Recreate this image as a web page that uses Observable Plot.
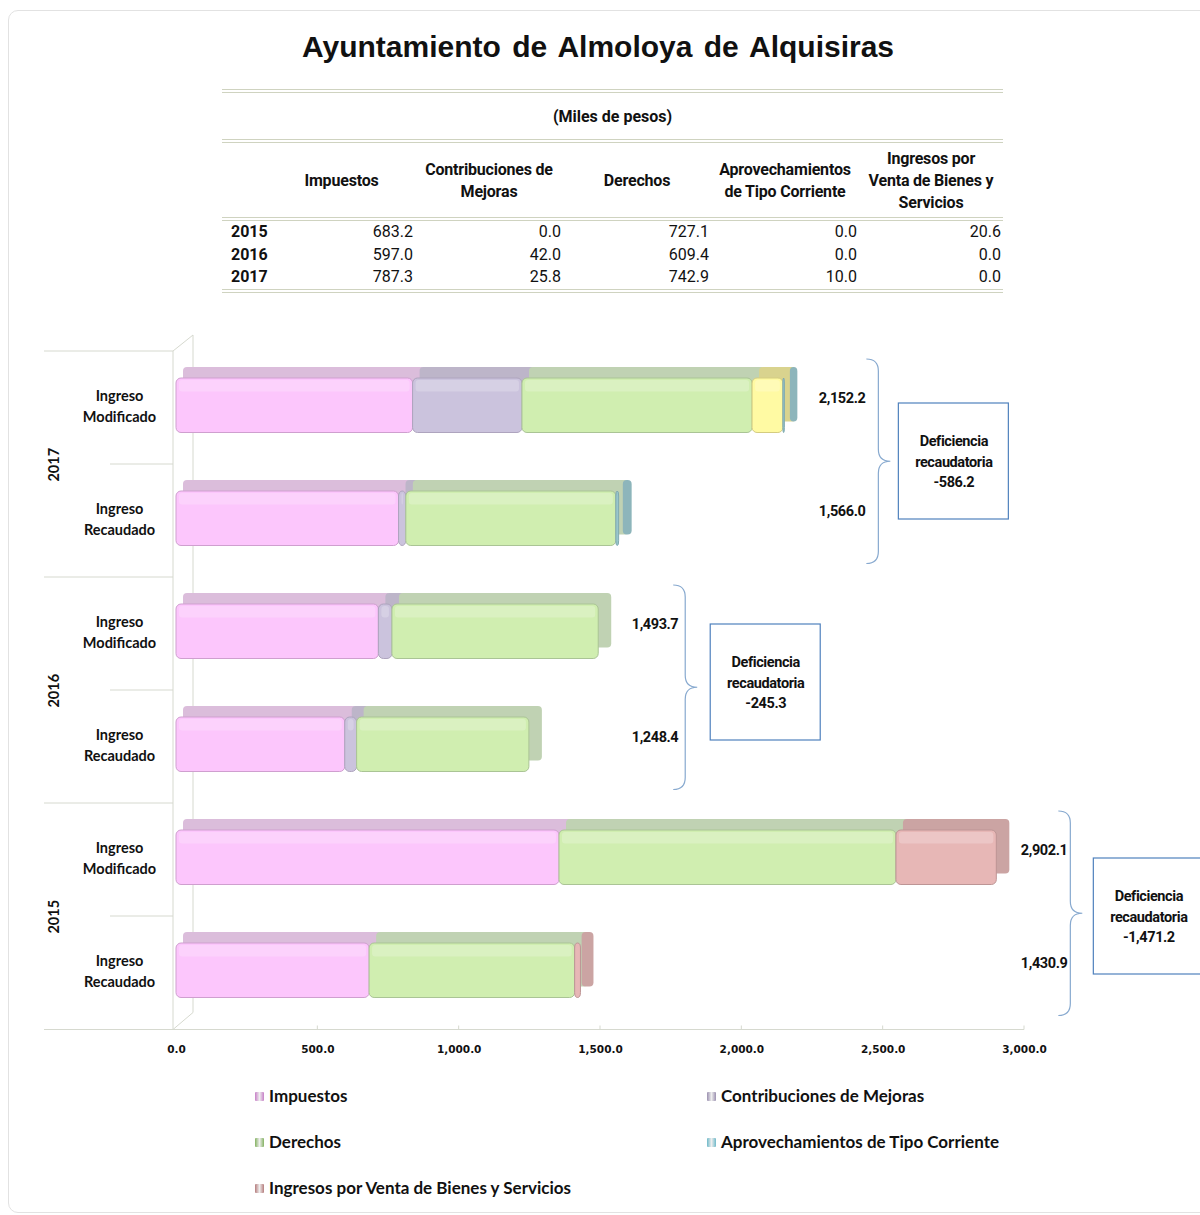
<!DOCTYPE html>
<html>
<head>
<meta charset="utf-8">
<script src="https://cdn.jsdelivr.net/npm/d3@7"></script>
<script src="https://cdn.jsdelivr.net/npm/@observablehq/plot@0.6"></script>
<style>
  html, body { margin: 0; padding: 0; background: #fff; }
  body { width: 1200px; height: 1215px; position: relative; overflow: hidden; font-family: "Liberation Sans", Arial, sans-serif; color: #111; }
  #card { position: absolute; left: 8px; top: 10px; width: 1210px; height: 1203px; border: 1px solid #e2e2e2; border-radius: 10px; box-sizing: border-box; }
  #title { position: absolute; left: 0; top: 30px; width: 1196px; text-align: center; font-weight: bold; font-size: 30px; word-spacing: 3px; }
  #tbl { position: absolute; left: 222px; top: 89px; width: 781px; border-collapse: collapse; table-layout: fixed; font-family: Roboto, "Liberation Sans", sans-serif; font-size: 16px; color: #111; }
  #tbl td, #tbl th { padding: 0; }
  #tbl .units td { height: 46px; text-align: center; font-weight: bold; border-top: 4px double #cfd3c0; border-bottom: 4px double #cfd3c0; }
  #tbl .head th { height: 72px; font-weight: bold; text-align: center; line-height: 22px; border-bottom: 4px double #cfd3c0; letter-spacing: -0.2px; padding-top: 2px; }
  #tbl .data td { height: 22.5px; line-height: 22px; text-align: right; padding-right: 2px; }
  #tbl .data td.yr { text-align: left; padding-left: 9px; font-weight: bold; }
  #tbl tr.last td { border-bottom: 4px double #cfd3c0; }
  #chart { position: absolute; left: 0; top: 330px; }
  #chart g[font-family^="Roboto"] text { letter-spacing: -0.4px; }
  #legend { position: absolute; left: 255px; top: 1085px; display: grid; grid-template-columns: 452px 452px; grid-auto-rows: 46px; font-family: Lato, "Open Sans", sans-serif; font-weight: bold; font-size: 17px; color: #111; }
  #legend .item { display: flex; align-items: flex-start; }
  #legend .sw { width: 9px; height: 9px; margin-right: 5px; margin-top: 7px; border-radius: 1px; }
</style>
</head>
<body>
<div id="card"></div>
<div id="title">Ayuntamiento de Almoloya de Alquisiras</div>
<table id="tbl"></table>
<div id="chart"></div>
<div id="legend"></div>
<script>
// ---------------- DATA ----------------
const tableYears = ["2015", "2016", "2017"];
const tableHeaders = ["Impuestos", "Contribuciones de\nMejoras", "Derechos", "Aprovechamientos\nde Tipo Corriente", "Ingresos por\nVenta de Bienes y\nServicios"];
const unitsLabel = "(Miles de pesos)";

// Ingreso recaudado (table), in 2015, 2016, 2017 order
const recImpuestos = [683.2, 597.0, 787.3];
const recContribuciones = [0.0, 42.0, 25.8];
const recDerechos = [727.1, 609.4, 742.9];
const recProductos = [0.0, 0.0, 0.0];
const recAprovechamientos = [0.0, 0.0, 10.0];
const recVenta = [20.6, 0.0, 0.0];

// Ingreso modificado, in 2015, 2016, 2017 order
const modImpuestos = [1355.0, 716.0, 837.0];
const modContribuciones = [0.0, 48.0, 387.0];
const modDerechos = [1192.0, 729.7, 814.0];
const modProductos = [0.0, 0.0, 109.0];
const modAprovechamientos = [0.0, 0.0, 5.2];
const modVenta = [355.1, 0.0, 0.0];

const totalModificado = [2902.1, 1493.7, 2152.2];
const totalRecaudado = [1430.9, 1248.4, 1566.0];
const deficiencia = [-1471.2, -245.3, -586.2];

const chartYears = ["2017", "2016", "2015"];
const tipos = ["Ingreso Modificado", "Ingreso Recaudado"];
const series = ["Impuestos", "Contribuciones de Mejoras", "Derechos", "Productos de Tipo Corriente", "Aprovechamientos de Tipo Corriente", "Ingresos por Venta de Bienes y Servicios"];
const legendSeries = ["Impuestos", "Contribuciones de Mejoras", "Derechos", "Aprovechamientos de Tipo Corriente", "Ingresos por Venta de Bienes y Servicios"];
const xTicks = [0, 500, 1000, 1500, 2000, 2500, 3000];

// ---------------- STYLE ----------------
const frontColor = {
  "Impuestos": "#fcc6fc", "Contribuciones de Mejoras": "#cbc3dd", "Derechos": "#d0eeb0",
  "Productos de Tipo Corriente": "#fffaa3", "Aprovechamientos de Tipo Corriente": "#98c6cc",
  "Ingresos por Venta de Bienes y Servicios": "#e7b7b6"
};
const backColor = {
  "Impuestos": "#dbbddb", "Contribuciones de Mejoras": "#bdb5c9", "Derechos": "#c0d2b3",
  "Productos de Tipo Corriente": "#d9d38e", "Aprovechamientos de Tipo Corriente": "#8db5bb",
  "Ingresos por Venta de Bienes y Servicios": "#cba4a3"
};
const edgeColor = {
  "Impuestos": "#cf9fcf", "Contribuciones de Mejoras": "#aea4be", "Derechos": "#aac495",
  "Productos de Tipo Corriente": "#d4cc80", "Aprovechamientos de Tipo Corriente": "#7fa9af",
  "Ingresos por Venta de Bienes y Servicios": "#bd9595"
};
const legendColor = {
  "Impuestos": "#c77fc7", "Contribuciones de Mejoras": "#9b90b0", "Derechos": "#84b262",
  "Aprovechamientos de Tipo Corriente": "#6fb9c9", "Ingresos por Venta de Bienes y Servicios": "#b57c7c"
};
// annotation offsets in pixels, in 2015, 2016, 2017 order
const labelDx = [24, 33, 34];
const braceDx = [62, 75, 82];
const boxDx = [97, 112, 114];
const boxDy = [0, -8, -3];
const narrow = "Roboto, 'Liberation Sans', sans-serif";
const calibri = "Lato, 'Open Sans', sans-serif";

// ---------------- TABLE ----------------
const tbl = document.getElementById("tbl");
const colW = [46, 147, 148, 148, 148, 144];
tbl.innerHTML =
  `<colgroup>${colW.map(w => `<col style="width:${w}px">`).join("")}</colgroup>` +
  `<tr class="units"><td colspan="6">${unitsLabel}</td></tr>` +
  `<tr class="head"><th></th>${tableHeaders.map(h => `<th>${h.replace(/\n/g, "<br>")}</th>`).join("")}</tr>` +
  tableYears.map((y, i) => {
    const vals = [recImpuestos[i], recContribuciones[i], recDerechos[i], recAprovechamientos[i], recVenta[i]];
    return `<tr class="data${i === tableYears.length - 1 ? " last" : ""}"><td class="yr">${y}</td>${vals.map(v => `<td>${v.toFixed(1)}</td>`).join("")}</tr>`;
  }).join("");

// ---------------- CHART DATA ----------------
const keyOf = (y, t) => y + "|" + t;
const rowKeys = chartYears.flatMap(y => tipos.map(t => keyOf(y, t)));
const segs = [];
chartYears.forEach(yr => {
  const i = tableYears.indexOf(yr);
  const mod = [modImpuestos[i], modContribuciones[i], modDerechos[i], modProductos[i], modAprovechamientos[i], modVenta[i]];
  const rec = [recImpuestos[i], recContribuciones[i], recDerechos[i], recProductos[i], recAprovechamientos[i], recVenta[i]];
  series.forEach((s, k) => {
    if (mod[k] > 0) segs.push({key: keyOf(yr, tipos[0]), serie: s, value: mod[k]});
    if (rec[k] > 0) segs.push({key: keyOf(yr, tipos[1]), serie: s, value: rec[k]});
  });
});
const yearInfo = chartYears.map(yr => {
  const i = tableYears.indexOf(yr);
  return {yr, i, mx: Math.max(totalModificado[i], totalRecaudado[i]), def: deficiencia[i],
    totals: [
      {key: keyOf(yr, tipos[0]), v: totalModificado[i]},
      {key: keyOf(yr, tipos[1]), v: totalRecaudado[i]}
    ]};
});
const fmt = d3.format(",.1f");
const fmtH = v => fmt(v).replace("\u2212", "-");

const H = 735, MT = 19, MB = 35, ML = 176, MR = 176;
const step = (H - MT - MB) / rowKeys.length;
const inTop = 27, inBottom = 31.5;

// decoration (walls, separators, braces, boxes) drawn with the plot's scales
function decor(index, scales, values, dims) {
  const g = d3.create("svg:g");
  const x0 = scales.x(0);
  const wall = "#d6d9cf";
  const top = scales.y(rowKeys[0]);
  const bottom = scales.y(rowKeys[rowKeys.length - 1]) + step;
  rowKeys.forEach((k, i) => {
    const yy = scales.y(k);
    g.append("line").attr("x1", i % 2 === 0 ? x0 - 132 : x0 - 66).attr("x2", x0 - 3)
      .attr("y1", yy).attr("y2", yy).attr("stroke", wall);
  });
  g.append("line").attr("x1", x0 - 132).attr("x2", scales.x(3000)).attr("y1", bottom).attr("y2", bottom).attr("stroke", wall);
  xTicks.slice(1).forEach(t => g.append("line").attr("x1", scales.x(t)).attr("x2", scales.x(t)).attr("y1", bottom).attr("y2", bottom - 4).attr("stroke", wall));
  g.append("path").attr("fill", "none").attr("stroke", wall)
    .attr("d", `M${x0 - 3},${bottom}V${top}l20,-16V${bottom - 17}L${x0 - 3},${bottom}`);
  yearInfo.forEach(d => {
    const yT = scales.y(keyOf(d.yr, tipos[0])) + 8;
    const yB = scales.y(keyOf(d.yr, tipos[1])) + step - 14;
    const ym = (yT + yB) / 2;
    const xb = scales.x(d.mx) + braceDx[d.i];
    const w = 24, r = 12;
    const xm = xb + w / 2;
    g.append("path").attr("fill", "none").attr("stroke", "#87a9cf").attr("stroke-width", 1.2)
      .attr("d", `M${xb},${yT}Q${xm},${yT} ${xm},${yT + r}V${ym - r}Q${xm},${ym} ${xb + w},${ym}Q${xm},${ym} ${xm},${ym + r}V${yB - r}Q${xm},${yB} ${xb},${yB}`);
    const bx = scales.x(d.mx) + boxDx[d.i];
    const by = scales.y(keyOf(d.yr, tipos[1])) + boxDy[d.i];
    g.append("rect").attr("x", bx).attr("y", by - 58).attr("width", 110).attr("height", 116)
      .attr("fill", "#fff").attr("stroke", "#4f81bd").attr("stroke-width", 1.2);
  });
  return g.node();
}

const labelMarks = yearInfo.flatMap(d => [
  Plot.text(d.totals, {x: () => d.mx, y: "key", dx: labelDx[d.i], dy: -10, text: t => fmt(t.v), textAnchor: "start", fontSize: 14.5, fontWeight: "bold", fontFamily: narrow, fill: "#111"}),
  Plot.text([d], {x: "mx", y: t => keyOf(t.yr, tipos[1]), dx: boxDx[d.i] + 55, dy: -step / 2 + boxDy[d.i] - 1, text: t => "Deficiencia\nrecaudatoria\n" + fmtH(t.def), textAnchor: "middle", lineHeight: 1.4, fontSize: 14.5, fontWeight: "bold", fontFamily: narrow, fill: "#111"})
]);

const chart = Plot.plot({
  width: 1200, height: H,
  marginTop: MT, marginBottom: MB, marginLeft: ML, marginRight: MR,
  style: {background: "transparent", overflow: "visible"},
  x: {domain: [0, 3000], axis: null},
  y: {domain: rowKeys, padding: 0, axis: null},
  marks: [
    decor,
    Plot.axisX({ticks: xTicks, tickFormat: fmt, tickSize: 0, tickPadding: 15, fontWeight: "bold", fontSize: 10.5, fontFamily: "'DejaVu Sans', Verdana, sans-serif", fill: "#111", label: null}),
    // top & side faces of the 3-D bars
    Plot.barX(segs, Plot.stackX({x: "value", y: "key", z: "serie", fill: d => backColor[d.serie], dx: 7, dy: -11, insetRight: -6, insetTop: inTop, insetBottom: inBottom, rx: 4})),
    // front faces
    Plot.barX(segs, Plot.stackX({x: "value", y: "key", z: "serie", fill: d => frontColor[d.serie], stroke: d => edgeColor[d.serie], strokeWidth: 1, insetTop: inTop, insetBottom: inBottom, rx: 5})),
    // gloss
    Plot.barX(segs, Plot.stackX({x: "value", y: "key", z: "serie", fill: "#ffffff", fillOpacity: 0.22, insetTop: inTop + 2, insetBottom: step - inTop - 14, insetLeft: 3, insetRight: 3, rx: 3})),
    // category labels
    Plot.text(rowKeys, {y: d => d, frameAnchor: "left", dx: -57, dy: -3, text: d => d.split("|")[1].replace(" ", "\n"), textAnchor: "middle", lineHeight: 1.4, fontSize: 14.5, fontWeight: "bold", fontFamily: calibri, fill: "#111"}),
    Plot.text(chartYears, {y: d => keyOf(d, tipos[0]), dy: step / 2, frameAnchor: "left", dx: -122, rotate: -90, textAnchor: "middle", text: d => d, fontSize: 14.5, fontWeight: "bold", fontFamily: calibri, fill: "#111"}),
    ...labelMarks
  ]
});
document.getElementById("chart").appendChild(chart);

// ---------------- LEGEND ----------------
document.getElementById("legend").innerHTML = legendSeries.map(s =>
  `<div class="item"><span class="sw" style="background:linear-gradient(90deg, ${legendColor[s]}, #eee 50%, ${legendColor[s]})"></span><span>${s}</span></div>`
).join("");
</script>
</body>
</html>
